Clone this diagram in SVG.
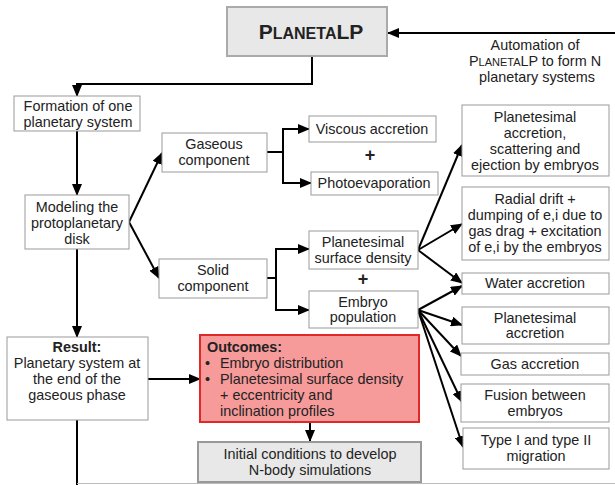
<svg xmlns="http://www.w3.org/2000/svg" width="615" height="485" viewBox="0 0 615 485">
<style>
text{font-family:"Liberation Sans",Arial,sans-serif;font-size:14.4px;fill:#222;text-anchor:middle}
.box{fill:#fff;stroke:#999;stroke-width:1}
.grey{fill:#e8e8e8;stroke:#aaa;stroke-width:2}
.out{fill:#f79a9a;stroke:#e02828;stroke-width:2}
.c{fill:none;stroke:#000;stroke-width:2}
.ca{fill:none;stroke:#000;stroke-width:2;marker-end:url(#ah)}
.b{font-weight:bold}
.l{text-anchor:start}
</style>
<defs>
<marker id="ah" markerUnits="userSpaceOnUse" markerWidth="12" markerHeight="10" refX="11" refY="5" orient="auto">
<path d="M0,0 L12,5 L0,10 z" fill="#000"/>
</marker>
</defs>
<rect width="615" height="485" fill="#fff"/>
<g id="connectors">
<path class="ca" d="M312,57 V84 H77 V96"/>
<path class="ca" d="M77,131 V195"/>
<path class="ca" d="M129,222 L162,153"/>
<path class="ca" d="M129,222 L159,278"/>
<path class="c" d="M267,152 H283 M283,129 V183"/>
<path class="ca" d="M282,129 H309"/>
<path class="ca" d="M282,183 H311"/>
<path class="c" d="M267,278 H276 M276,249 V310"/>
<path class="ca" d="M275,249 H309"/>
<path class="ca" d="M275,310 H309"/>
<path class="ca" d="M418,250 L462,145"/>
<path class="ca" d="M418,250 L462,224"/>
<path class="ca" d="M418,250 L462,283"/>
<path class="ca" d="M418,310 L462,286"/>
<path class="ca" d="M418,310 L462,325"/>
<path class="ca" d="M418,310 L461,356"/>
<path class="ca" d="M418,310 L462,402"/>
<path class="ca" d="M418,310 L463,447"/>
<path class="ca" d="M77,249 V337"/>
<path class="ca" d="M148,379 H200"/>
<path class="ca" d="M310,422 V441"/>
<path class="c" d="M77,420 V485"/>
<path class="ca" d="M615,33 H388"/>
<path d="M77,483.5 H615" stroke="#bbb" stroke-width="1" fill="none"/>
</g>
<g id="planetalp">
<rect class="grey" x="227" y="7" width="160" height="49"/>
<text x="311" y="39" class="b" style="font-size:21px"><tspan>P</tspan><tspan style="font-size:16px">LANETA</tspan><tspan>LP</tspan></text>
</g>
<g id="automation">
<text x="535" y="50">Automation of</text>
<text x="535" y="66"><tspan>P</tspan><tspan style="font-size:11px">LANETA</tspan><tspan>LP to form N</tspan></text>
<text x="537" y="82">planetary systems</text>
</g>
<g id="formation">
<rect class="box" x="14" y="96" width="126" height="35"/>
<text x="78" y="111">Formation of one</text>
<text x="78" y="127">planetary system</text>
</g>
<g id="modeling">
<rect class="box" x="25" y="195" width="104" height="54"/>
<text x="77" y="212">Modeling the</text>
<text x="77" y="228">protoplanetary</text>
<text x="77" y="244">disk</text>
</g>
<g id="gaseous">
<rect class="box" x="162" y="133" width="105" height="39"/>
<text x="214" y="149">Gaseous</text>
<text x="214" y="165">component</text>
</g>
<g id="solid">
<rect class="box" x="159" y="259" width="108" height="39"/>
<text x="213" y="275">Solid</text>
<text x="213" y="291">component</text>
</g>
<g id="viscous">
<rect class="box" x="309" y="116" width="127" height="26"/>
<text x="372" y="134">Viscous accretion</text>
</g>
<text x="370" y="161" class="b" style="font-size:18px">+</text>
<g id="photoevaporation">
<rect class="box" x="311" y="172" width="127" height="23"/>
<text x="374" y="188">Photoevaporation</text>
</g>
<g id="surface-density">
<rect class="box" x="309" y="231" width="109" height="38"/>
<text x="363" y="247">Planetesimal</text>
<text x="363" y="263">surface density</text>
</g>
<text x="363" y="285" class="b" style="font-size:18px">+</text>
<g id="embryo">
<rect class="box" x="309" y="291" width="109" height="37"/>
<text x="363" y="307">Embryo</text>
<text x="363" y="322">population</text>
</g>
<g id="r1">
<rect class="box" x="462" y="105" width="147" height="71"/>
<text x="535" y="122">Planetesimal</text>
<text x="535" y="138">accretion,</text>
<text x="535" y="154">scattering and</text>
<text x="535" y="170">ejection by embryos</text>
</g>
<g id="r2">
<rect class="box" x="462" y="187" width="147" height="73"/>
<text x="535" y="204">Radial drift +</text>
<text x="535" y="220">dumping of e,i due to</text>
<text x="535" y="236">gas drag + excitation</text>
<text x="535" y="252">of e,i by the embryos</text>
</g>
<g id="r3">
<rect class="box" x="462" y="273" width="147" height="21"/>
<text x="535" y="288">Water accretion</text>
</g>
<g id="r4">
<rect class="box" x="462" y="307" width="147" height="37"/>
<text x="535" y="323">Planetesimal</text>
<text x="535" y="338">accretion</text>
</g>
<g id="r5">
<rect class="box" x="461" y="353" width="148" height="22"/>
<text x="535" y="369">Gas accretion</text>
</g>
<g id="r6">
<rect class="box" x="461" y="384" width="148" height="38"/>
<text x="535" y="400">Fusion between</text>
<text x="535" y="416">embryos</text>
</g>
<g id="r7">
<rect class="box" x="463" y="428" width="146" height="41"/>
<text x="536" y="445">Type I and type II</text>
<text x="536" y="461">migration</text>
</g>
<g id="result">
<rect class="box" x="7" y="337" width="141" height="83"/>
<text x="77" y="352" class="b">Result:</text>
<text x="77" y="368">Planetary system at</text>
<text x="77" y="384">the end of the</text>
<text x="77" y="400">gaseous phase</text>
</g>
<g id="outcomes">
<rect class="out" x="200" y="335" width="219" height="87"/>
<text x="207" y="352" class="b l">Outcomes:</text>
<text x="205" y="368" class="l">•</text>
<text x="220" y="368" class="l">Embryo distribution</text>
<text x="205" y="384" class="l">•</text>
<text x="220" y="384" class="l">Planetesimal surface density</text>
<text x="220" y="400" class="l">+ eccentricity and</text>
<text x="220" y="416" class="l">inclination profiles</text>
</g>
<g id="initial">
<rect class="grey" x="198" y="442" width="223" height="40" style="stroke:#999"/>
<text x="310" y="459">Initial conditions to develop</text>
<text x="310" y="475">N-body simulations</text>
</g>
</svg>
